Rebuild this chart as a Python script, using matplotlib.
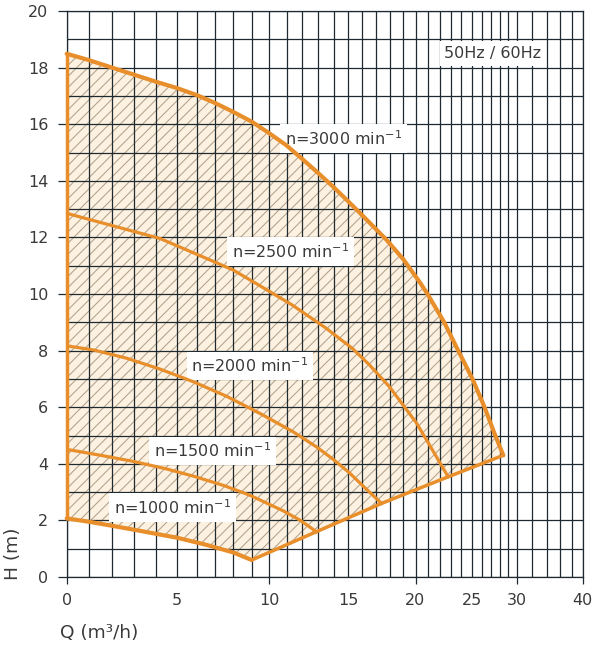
import numpy as np
import matplotlib
matplotlib.use("Agg")
import matplotlib.pyplot as plt
from matplotlib.ticker import FixedLocator, FuncFormatter

# ---------------- data ----------------
q_3000 = [0, 1, 2, 3, 4, 5, 6, 7, 8, 9, 10, 11, 12, 13, 14, 15, 16, 17, 17.8, 19, 20.4,
          21, 22.4, 23.7, 25.05, 26.3, 27.4, 28.4]
h_3000 = [18.49, 18.26, 18.0, 17.75, 17.5, 17.28, 17.03, 16.75, 16.44, 16.09, 15.68,
          15.25, 14.78, 14.28, 13.78, 13.28, 12.78, 12.28, 11.9, 11.24, 10.39, 10.0,
          9.0, 8.0, 7.0, 6.0, 5.05, 4.3]

q_2500 = [0, 1.9, 4.2, 6.7, 8.0, 9.5, 11.4, 13.5, 15.3, 16.5, 18, 19, 20.1, 21.2, 22.75]
h_2500 = [12.85, 12.44, 11.96, 11.21, 10.85, 10.28, 9.6, 8.8, 8.08, 7.5, 6.72, 6.08,
          5.43, 4.64, 3.54]

q_2000 = [0, 1.2, 2.67, 4.18, 5.83, 7.63, 9.47, 11.4, 12.9, 14, 15.1, 16.3, 17.4]
h_2000 = [8.17, 8.02, 7.73, 7.35, 6.9, 6.39, 5.78, 5.14, 4.6, 4.15, 3.68, 3.1, 2.6]

q_1500 = [0, 1.5, 3, 4.5, 5.9, 7.5, 8.9, 10.8, 11.9, 12.9]
h_1500 = [4.51, 4.30, 4.08, 3.82, 3.55, 3.23, 2.89, 2.34, 2.0, 1.6]

q_1000 = [0, 1, 2, 3, 5, 6.5, 8, 9]
h_1000 = [2.07, 1.95, 1.81, 1.67, 1.39, 1.14, 0.87, 0.6]

q_limit = [9, 12.9, 17.4, 22.75, 28.4]
h_limit = [0.6, 1.6, 2.6, 3.54, 4.3]

speed_labels = ["n=3000 min$^{\\mathregular{-1}}$", "n=2500 min$^{\\mathregular{-1}}$",
                "n=2000 min$^{\\mathregular{-1}}$", "n=1500 min$^{\\mathregular{-1}}$",
                "n=1000 min$^{\\mathregular{-1}}$"]
speed_label_q = [14.67, 11.24, 8.9, 6.86, 4.81]
speed_label_h = [15.49, 11.5, 7.46, 4.45, 2.46]

freq_label = "50Hz / 60Hz"
freq_label_q = 27.2
freq_label_h = 18.5

x_major_ticks = [0, 10, 20, 30, 40]
x_mid_ticks = [5, 15, 25]
x_grid = list(range(0, 31)) + [32, 34, 36, 38, 40]
y_major_ticks = list(range(0, 21, 2))
y_grid = list(range(0, 21))

# ---------------- non-linear Q axis scale ----------------
SCALE_Q = [0, 1, 2, 3, 4, 5, 6, 7, 8, 9, 10, 11, 12, 13, 14, 15, 16, 17, 18, 19,
           20, 21, 22, 23, 24, 25, 26, 27, 28, 29, 30, 32, 34, 36, 38, 40]
SCALE_P = [66.7, 89.3, 112, 134, 156, 176.7, 196.7, 215, 233, 251.7, 269.3, 286.5,
           302, 318, 333.5, 348, 362.3, 376.3, 389.5, 403, 415.5, 427.5, 439.7,
           451, 461.3, 472, 481.7, 491.2, 500, 508.3, 516.7, 531.7, 546.7, 560, 571.7, 582.7]


def _interp_ext(x, xp, fp):
    x = np.asarray(x, dtype=float)
    xp = np.asarray(xp, dtype=float)
    fp = np.asarray(fp, dtype=float)
    y = np.interp(x, xp, fp)
    s0 = (fp[1] - fp[0]) / (xp[1] - xp[0])
    s1 = (fp[-1] - fp[-2]) / (xp[-1] - xp[-2])
    y = np.where(x < xp[0], fp[0] + (x - xp[0]) * s0, y)
    y = np.where(x > xp[-1], fp[-1] + (x - xp[-1]) * s1, y)
    return y


def q_forward(x):
    return _interp_ext(x, SCALE_Q, SCALE_P)


def q_inverse(p):
    return _interp_ext(p, SCALE_P, SCALE_Q)


# ---------------- styling ----------------
ORANGE = "#e88f2b"
GRID = "#1f2a30"
TXT = "#3a3a3a"
FILL = "#fdf1e1"
HATCH = "#b3a28c"

plt.rcParams["font.family"] = ["DejaVu Sans"]
plt.rcParams["hatch.linewidth"] = 0.75

W, H = 595, 646
fig = plt.figure(figsize=(W / 100, H / 100), dpi=100)
ax = fig.add_axes([66.7 / W, (H - 577) / H, (582.7 - 66.7) / W, (577 - 11) / H])

ax.set_xscale("function", functions=(q_forward, q_inverse))
ax.set_xlim(0, 40)
ax.set_ylim(0, 20)

# ticks and grid
ax.xaxis.set_major_locator(FixedLocator(x_major_ticks))
ax.xaxis.set_major_formatter(FuncFormatter(lambda v, p: f"{v:g}"))
minor_x = [v for v in x_grid if v not in x_major_ticks]
ax.xaxis.set_minor_locator(FixedLocator(minor_x))
ax.xaxis.set_minor_formatter(FuncFormatter(lambda v, p: f"{v:g}" if round(v) in x_mid_ticks else ""))

ax.yaxis.set_major_locator(FixedLocator(y_major_ticks))
ax.yaxis.set_major_formatter(FuncFormatter(lambda v, p: f"{v:g}"))
ax.yaxis.set_minor_locator(FixedLocator([v for v in y_grid if v not in y_major_ticks]))

ax.tick_params(axis="x", which="major", length=5, width=0.9, color=GRID, pad=6.5,
               labelsize=11.5, labelcolor=TXT)
ax.tick_params(axis="x", which="minor", length=0, pad=11.5, labelsize=11.5, labelcolor=TXT)
ax.tick_params(axis="y", which="major", length=6.2, width=0.9, color=GRID, pad=7,
               labelsize=11.5, labelcolor=TXT)
ax.tick_params(axis="y", which="minor", length=0)

ax.grid(True, which="both", color=GRID, linewidth=0.9)
ax.set_axisbelow(False)
for sp in ax.spines.values():
    sp.set_color(GRID)
    sp.set_linewidth(0.9)

# shaded operating region
reg_q = np.concatenate([[q_1000[0]], q_3000, q_limit[::-1][1:], q_1000[::-1][1:]])
reg_h = np.concatenate([[h_1000[0]], h_3000, h_limit[::-1][1:], h_1000[::-1][1:]])
ax.fill(reg_q, reg_h, facecolor=FILL, edgecolor="none", zorder=1)
ax.fill(reg_q, reg_h, facecolor="none", edgecolor=HATCH, linewidth=0, hatch="///", zorder=1.1)

# labels with white boxes (below the curves, above the grid)
box = dict(boxstyle="square,pad=0.3", facecolor="white", edgecolor="none")
for txt, qx, hy in zip(speed_labels, speed_label_q, speed_label_h):
    ax.text(qx, hy, txt, ha="center", va="center", fontsize=11.5, color=TXT, bbox=box, zorder=2.8)
ax.text(freq_label_q, freq_label_h, freq_label, ha="center", va="center", fontsize=11.5,
        color=TXT, bbox=box, zorder=2.8)

# curves
ax.plot(q_3000, h_3000, color=ORANGE, lw=3.0, solid_capstyle="round",
        solid_joinstyle="round", zorder=3, clip_on=False)
for qq, hh in [(q_2500, h_2500), (q_2000, h_2000), (q_1500, h_1500)]:
    ax.plot(qq, hh, color=ORANGE, lw=2.3, solid_joinstyle="round", zorder=3)
ax.plot(q_1000, h_1000, color=ORANGE, lw=3.0, solid_capstyle="round",
        solid_joinstyle="round", zorder=3, clip_on=False)
ax.plot(q_limit, h_limit, color=ORANGE, lw=2.5, solid_capstyle="round",
        solid_joinstyle="round", zorder=3)
ax.plot([q_1000[0], q_3000[0]], [h_1000[0], h_3000[0]], color=ORANGE, lw=2.5,
        zorder=3, clip_on=False)

# axis labels
ax.set_xlabel("Q (m³/h)", fontsize=13.3, color=TXT, ha="left", va="center")
ax.xaxis.set_label_coords((60 - 66.7) / 516, -(633 - 577) / 566)
ax.set_ylabel("H (m)", fontsize=13.3, color=TXT, ha="center", va="center")
ax.yaxis.set_label_coords((13 - 66.7) / 516, (577 - 554) / 566)

fig.savefig("out.png", dpi=100)
